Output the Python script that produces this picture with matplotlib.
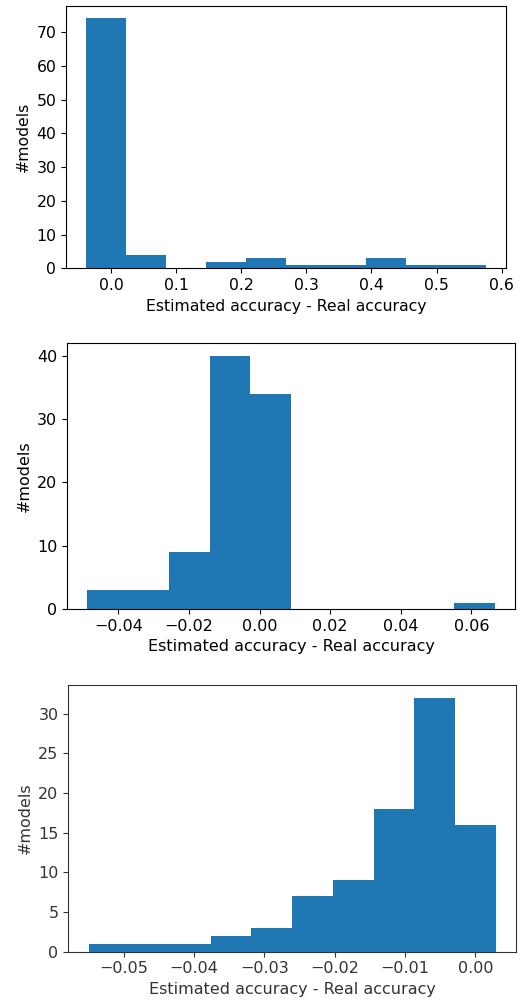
import numpy as np
import matplotlib
matplotlib.use('Agg')
import matplotlib.pyplot as plt
from matplotlib.ticker import MultipleLocator

# Histogram counts (10 bins each, 90 models)
counts_1 = [74, 4, 0, 2, 3, 1, 1, 3, 1, 1]
range_1 = (-0.0384, 0.576)

counts_2 = [3, 3, 9, 40, 34, 0, 0, 0, 0, 1]
range_2 = (-0.0488, 0.0666)

counts_3 = [1, 1, 1, 2, 3, 7, 9, 18, 32, 16]
range_3 = (-0.0550, 0.0029)

xlabel = 'Estimated accuracy - Real accuracy'
ylabel = '#models'

fig = plt.figure(figsize=(5.32, 10.01), dpi=100)

# axes placement in figure fractions, matching the stacked panels
boxes = [
    [0.1241, 0.7320, 0.8270, 0.2620],
    [0.1259, 0.3916, 0.8420, 0.2657],
    [0.1284, 0.0493, 0.8416, 0.2664],
]


def draw(ax, counts, rng, text_color='black', fsize=11.3, ystep=10):
    edges = np.linspace(rng[0], rng[1], len(counts) + 1)
    centers = (edges[:-1] + edges[1:]) / 2
    ax.hist(centers, bins=edges, weights=counts, color='#1f77b4')
    ax.set_xlabel(xlabel, fontsize=fsize, color=text_color)
    ax.set_ylabel(ylabel, fontsize=fsize, color=text_color)
    ax.tick_params(labelsize=fsize, colors=text_color)
    ax.yaxis.set_major_locator(MultipleLocator(ystep))
    for s in ax.spines.values():
        s.set_color(text_color)


ax1 = fig.add_axes(boxes[0])
draw(ax1, counts_1, range_1)

ax2 = fig.add_axes(boxes[1])
draw(ax2, counts_2, range_2, fsize=11.5)

ax3 = fig.add_axes(boxes[2])
draw(ax3, counts_3, range_3, text_color='#333333', fsize=11.5, ystep=5)

fig.savefig('out.png', dpi=100)
